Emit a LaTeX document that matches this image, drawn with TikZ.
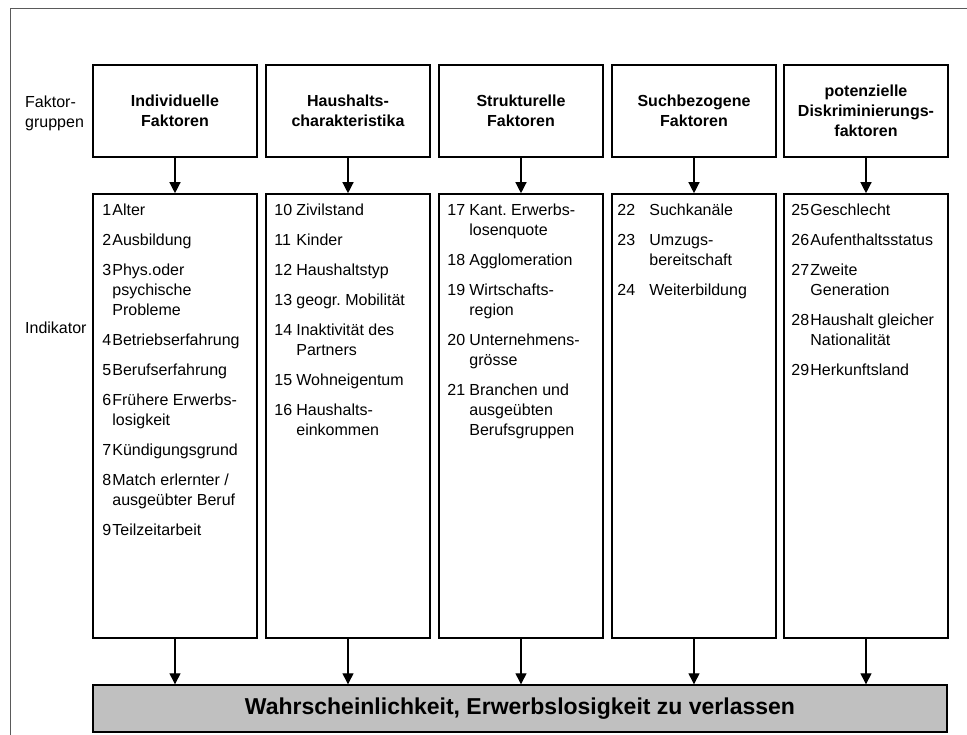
\documentclass[tikz,border=0pt]{standalone}
\usepackage{fontspec}
\usepackage{array}
\setmainfont{Liberation Sans}
\usetikzlibrary{arrows.meta}
\definecolor{boxgray}{RGB}{192,192,192}
\definecolor{framegray}{RGB}{90,90,90}
\newcolumntype{L}[1]{>{\raggedright\arraybackslash}p{#1}}
% row end with the extra space between two indicators
\newcommand\nextitem{\\\noalign{\vskip 10pt}}
\frenchspacing
\begin{document}
\begin{tikzpicture}[x=1pt,y=-1pt,
  txt/.style={font=\fontsize{16}{20}\selectfont, inner sep=0pt, align=left},
  hdr/.style={draw, line width=1.6pt, minimum width=164pt, minimum height=92pt,
    align=center, inner sep=0pt, font=\bfseries\fontsize{16}{20}\selectfont},
  indbox/.style={draw, line width=1.6pt, minimum width=164pt, minimum height=444pt, inner sep=0pt},
  flow/.style={line width=1.3pt, -{Triangle[length=11pt,width=11pt]}},
  list/.style={txt, anchor=north west}
]
\useasboundingbox (0,0) rectangle (967,735);

% outer frame
\draw[line width=1pt, framegray] (10,735) -- (10,9) -- (967,9);

% row labels
\node[txt, anchor=west] (lblF) at (25,113) {Faktor-\\gruppen};
\node[txt, anchor=west] (lblI) at (25,328) {Indikator};

% factor groups
\node[hdr] (h1) at (175,111) {Individuelle\\Faktoren};
\node[hdr] (h2) at (348,111) {Haushalts-\\charakteristika};
\node[hdr] (h3) at (521,111) {Strukturelle\\Faktoren};
\node[hdr] (h4) at (694,111) {Suchbezogene\\Faktoren};
\node[hdr] (h5) at (866,111) {potenzielle\\Diskriminierungs-\\faktoren};

% indicator boxes
\foreach \i/\x in {1/175,2/348,3/521,4/694,5/866}
  \node[indbox] (i\i) at (\x,416) {};

% indicator lists
\node[list] (l1) at ([xshift=10pt,yshift=-8pt]i1.north west) {%
\begin{tabular}[t]{@{}L{10pt}@{}L{150pt}@{}}
1&Alter\nextitem
2&Ausbildung\nextitem
3&Phys.oder\newline psychische\newline Probleme\nextitem
4&Betriebserfahrung\nextitem
5&Berufserfahrung\nextitem
6&Frühere Erwerbs-\newline losigkeit\nextitem
7&Kündigungsgrund\nextitem
8&Match erlernter /\newline ausgeübter Beruf\nextitem
9&Teilzeitarbeit
\end{tabular}};

\node[list] (l2) at ([xshift=9pt,yshift=-8pt]i2.north west) {%
\begin{tabular}[t]{@{}L{22pt}@{}L{150pt}@{}}
10&Zivilstand\nextitem
11&Kinder\nextitem
12&Haushaltstyp\nextitem
13&geogr. Mobilität\nextitem
14&Inaktivität des\newline Partners\nextitem
15&Wohneigentum\nextitem
16&Haushalts-\newline einkommen
\end{tabular}};

\node[list] (l3) at ([xshift=9pt,yshift=-8pt]i3.north west) {%
\begin{tabular}[t]{@{}L{22pt}@{}L{150pt}@{}}
17&Kant. Erwerbs-\newline losenquote\nextitem
18&Agglomeration\nextitem
19&Wirtschafts-\newline region\nextitem
20&Unternehmens-\newline grösse\nextitem
21&Branchen und\newline ausgeübten\newline Berufsgruppen
\end{tabular}};

\node[list] (l4) at ([xshift=6pt,yshift=-8pt]i4.north west) {%
\begin{tabular}[t]{@{}L{32pt}@{}L{150pt}@{}}
22&Suchkanäle\nextitem
23&Umzugs-\newline bereitschaft\nextitem
24&Weiterbildung
\end{tabular}};

\node[list] (l5) at ([xshift=8pt,yshift=-8pt]i5.north west) {%
\begin{tabular}[t]{@{}L{19pt}@{}L{150pt}@{}}
25&Geschlecht\nextitem
26&Aufenthaltsstatus\nextitem
27&Zweite\newline Generation\nextitem
28&Haushalt gleicher\newline Nationalität\nextitem
29&Herkunftsland
\end{tabular}};

% outcome
\node[draw, line width=1.4pt, fill=boxgray, minimum width=854pt, minimum height=47pt,
  inner sep=0pt, font=\bfseries\fontsize{23}{28}\selectfont] (res) at (520,708.5)
  {Wahrscheinlichkeit, Erwerbslosigkeit zu verlassen};

% connectors
\foreach \i in {1,...,5} {
  \draw[flow] (h\i.south) -- (i\i.north);
  \draw[flow] (i\i.south) -- (i\i.south |- res.north);
}
\end{tikzpicture}
\end{document}
